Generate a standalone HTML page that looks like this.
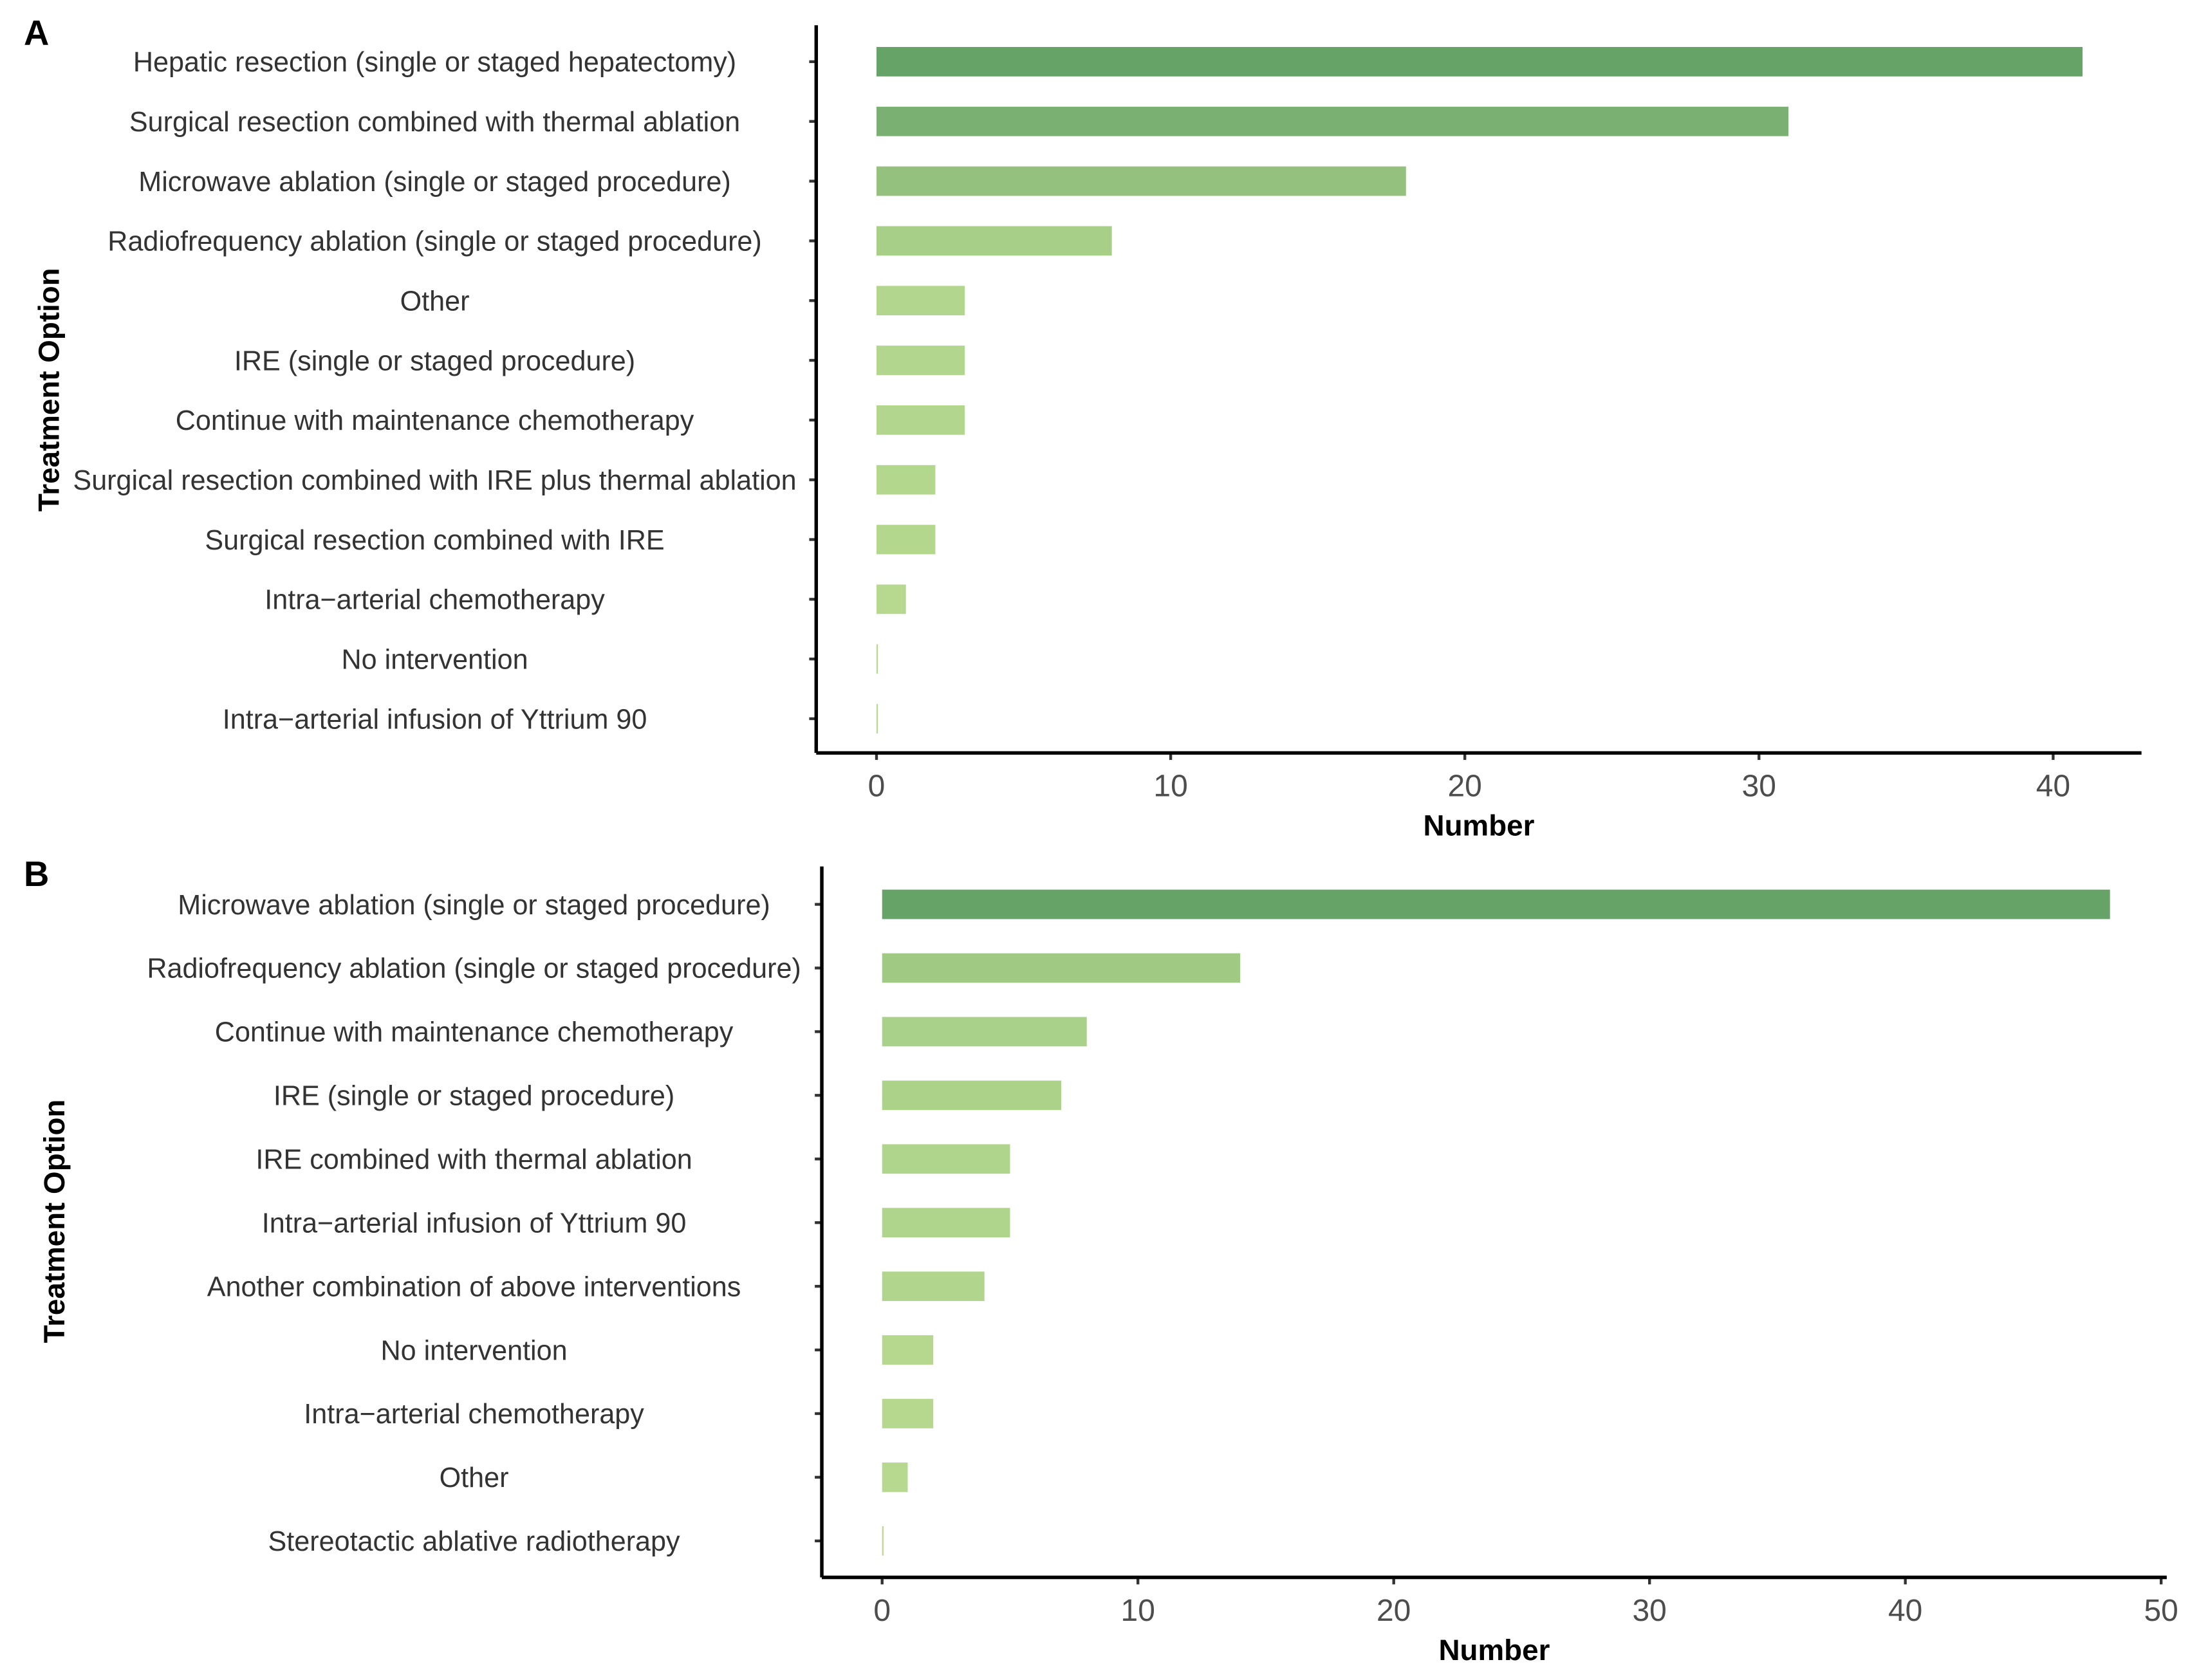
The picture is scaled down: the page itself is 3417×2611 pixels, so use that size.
<!DOCTYPE html>
<html><head><meta charset="utf-8"><style>
html,body{margin:0;padding:0;background:#fff;}
svg{display:block;}
text{font-family:"Liberation Sans",sans-serif;}
</style></head><body>
<svg id="chart" width="3417" height="2611" viewBox="0 0 1568 1198.2" preserveAspectRatio="none" xmlns="http://www.w3.org/2000/svg">
<g id="pa"></g>
<g id="pb"></g>
</svg>
<script>
const catsA = ["Hepatic resection (single or staged hepatectomy)","Surgical resection combined with thermal ablation","Microwave ablation (single or staged procedure)","Radiofrequency ablation (single or staged procedure)","Other","IRE (single or staged procedure)","Continue with maintenance chemotherapy","Surgical resection combined with IRE plus thermal ablation","Surgical resection combined with IRE","Intra\u2212arterial chemotherapy","No intervention","Intra\u2212arterial infusion of Yttrium 90"];
const valsA = [41,31,18,8,3,3,3,2,2,1,0,0];
const ticksA = [0,10,20,30,40];
const catsB = ["Microwave ablation (single or staged procedure)","Radiofrequency ablation (single or staged procedure)","Continue with maintenance chemotherapy","IRE (single or staged procedure)","IRE combined with thermal ablation","Intra\u2212arterial infusion of Yttrium 90","Another combination of above interventions","No intervention","Intra\u2212arterial chemotherapy","Other","Stereotactic ablative radiotherapy"];
const valsB = [48,14,8,7,5,5,4,2,2,1,0];
const ticksB = [0,10,20,30,40,50];

const NS="http://www.w3.org/2000/svg";
function mk(parent,tag,attrs,txt){const e=document.createElementNS(NS,tag);for(const k in attrs)e.setAttribute(k,attrs[k]);if(txt!==undefined)e.textContent=txt;parent.appendChild(e);return e;}
function col(v,max){const t=max?v/max:0;const a=[184,218,144],b=[102,163,103];return "rgb("+a.map((x,i)=>Math.round(x+(b[i]-x)*t)).join(",")+")";}

function panel(g,cfg,cats,vals,ticks){
  const x=v=>cfg.x0+v*cfg.k;
  const y=i=>cfg.y0+i*cfg.dy;
  const max=Math.max(...vals);
  let e=mk(g,"text",{x:cfg.letterX,y:cfg.letterY,"font-size":25,"font-weight":"bold"},cfg.letter);
  
  
  cats.forEach((c,i)=>{
    e=mk(g,"rect",{x:x(0),y:y(i)-10.5,width:Math.max(x(vals[i])-x(0),1),height:21,fill:col(vals[i],max)});
    
    
    e=mk(g,"text",{x:cfg.labelX,y:y(i)+7,"font-size":19.8,"text-anchor":"middle",fill:"#333"},c);
    
    
    mk(g,"line",{x1:cfg.axX-5,x2:cfg.axX,y1:y(i),y2:y(i),stroke:"#333","stroke-width":2});
  });
  ticks.forEach(t=>{
    mk(g,"line",{x1:x(t),x2:x(t),y1:cfg.axY,y2:cfg.axY+5,stroke:"#333","stroke-width":2});
    e=mk(g,"text",{x:x(t),y:cfg.axY+31,"font-size":22,"text-anchor":"middle",fill:"#4d4d4d"},t);
    
    
  });
  e=mk(g,"line",{x1:cfg.axX,x2:cfg.axX,y1:cfg.axTop,y2:cfg.axY,stroke:"#000","stroke-width":2.5});
  
  
  e=mk(g,"line",{x1:cfg.axX,x2:cfg.axRight,y1:cfg.axY,y2:cfg.axY,stroke:"#000","stroke-width":2.5});
  
  
  e=mk(g,"text",{x:(cfg.axX+cfg.axRight)/2,y:cfg.axY+59,"font-size":21,"font-weight":"bold","text-anchor":"middle"},"Number");
  
  
  e=mk(g,"text",{x:0,y:0,"font-size":21,"font-weight":"bold","text-anchor":"middle",transform:"translate("+cfg.ytX+","+cfg.ytY+") rotate(-90)"},"Treatment Option");
  
  
}
panel(document.getElementById('pa'),{letter:"A",letterX:17,letterY:32,x0:625,k:20.975,y0:44,dy:42.6,labelX:310,axX:582,axY:537,axTop:18,axRight:1527,ytX:42,ytY:278},catsA,valsA,ticksA);
panel(document.getElementById('pb'),{letter:"B",letterX:17,letterY:632,x0:629,k:18.24,y0:645,dy:45.4,labelX:338,axX:586,axY:1125,axTop:618,axRight:1545,ytX:46,ytY:871},catsB,valsB,ticksB);
</script>
</body></html>
